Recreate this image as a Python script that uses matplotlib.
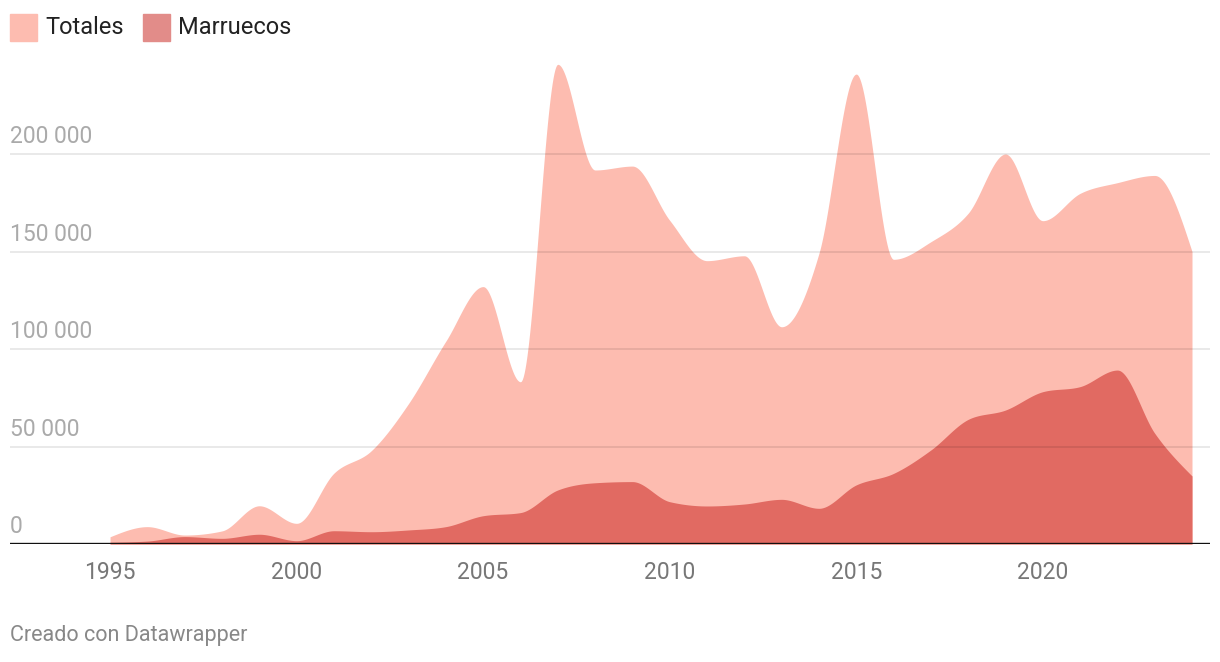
import matplotlib.pyplot as plt
import numpy as np

plt.rcParams['font.family'] = ['Roboto', 'DejaVu Sans']

years = list(range(1995, 2025))
totales = [3700, 8900, 4600, 6700, 19600, 10600, 36300, 47800, 72000, 104000,
           132000, 83200, 246000, 191800, 193800, 166000, 145300, 147800, 111400, 149000,
           241000, 146000, 155000, 169600, 200000, 165800, 179800, 185300, 189000, 150000]
marruecos = [900, 1500, 3800, 2900, 5000, 1700, 6800, 6300, 7200, 8900,
             14500, 16100, 27700, 31400, 32000, 21700, 19500, 20500, 22900, 18300,
             30300, 36200, 48200, 63900, 68700, 78100, 80700, 89200, 56800, 34900]
series_names = ['Totales', 'Marruecos']
y_ticks = [0, 50000, 100000, 150000, 200000]
x_ticks = [1995, 2000, 2005, 2010, 2015, 2020]

c_tot = '#fdbcb0'
c_mar = '#e16a62'
c_mar_legend = '#e28c89'


## monotone cubic like d3 curveMonotoneX
def monotone(x, y, n=40):
  x = np.asarray(x, float); y = np.asarray(y, float)
  h = np.diff(x); s = np.diff(y) / h
  m = np.zeros(len(x))
  for i in range(1, len(x) - 1):
    h0, h1 = h[i-1], h[i]
    s0, s1 = s[i-1], s[i]
    p = (s0 * h1 + s1 * h0) / (h0 + h1)
    m[i] = (np.sign(s0) + np.sign(s1)) * min(abs(s0), abs(s1), 0.5 * abs(p))
  m[0] = (3 * s[0] - m[1]) / 2
  m[-1] = (3 * s[-1] - m[-2]) / 2
  xs, ys = [], []
  for i in range(len(x) - 1):
    t = np.linspace(0, 1, n, endpoint=(i == len(x) - 2))
    h00 = 2*t**3 - 3*t**2 + 1
    h10 = t**3 - 2*t**2 + t
    h01 = -2*t**3 + 3*t**2
    h11 = t**3 - t**2
    xs.append(x[i] + t * h[i])
    ys.append(h00*y[i] + h10*h[i]*m[i] + h01*y[i+1] + h11*h[i]*m[i+1])
  return np.concatenate(xs), np.concatenate(ys)


fig = plt.figure(figsize=(12.2, 6.62), dpi=100)
ax = fig.add_axes([10/1220, 118/662, 1200/1220, 487.5/662])

xs, ys = monotone(years, totales)
ax.fill_between(xs, 0, ys, color=c_tot, lw=0, zorder=1)
xs, ys = monotone(years, marruecos)
ax.fill_between(xs, 0, ys, color=c_mar, lw=0, zorder=2)

ax.set_xlim(1995 - 100/37.3, 2024 + 18/37.3)
ax.set_ylim(0, 250000)

for v in y_ticks[1:]:
  ax.axhline(v, color='black', alpha=0.1, lw=1.2, zorder=3)
ax.axhline(0, color='#111111', lw=1.7, zorder=4)

for v in y_ticks:
  lab = '{:,}'.format(v).replace(',', ' ')
  ax.annotate(lab, xy=(0, v), xycoords=('axes fraction', 'data'),
              xytext=(0, 4), textcoords='offset points',
              ha='left', va='bottom', fontsize=16.5, color='#aaaaaa', zorder=5)

ax.set_xticks(x_ticks)
ax.set_xticklabels([str(t) for t in x_ticks], fontsize=16.5, color='#777777')
ax.tick_params(axis='x', length=0, pad=12)
ax.set_yticks([])
for sp in ax.spines.values():
  sp.set_visible(False)

# legend
fig.patches.append(plt.Rectangle((10/1220, 1 - 41/662), 27/1220, 27/662,
                                 transform=fig.transFigure, color=c_tot))
fig.text(45/1220, 1 - 27/662, series_names[0], fontsize=17, color='#222222', va='center')
fig.patches.append(plt.Rectangle((143/1220, 1 - 41/662), 27/1220, 27/662,
                                 transform=fig.transFigure, color=c_mar_legend))
fig.text(178/1220, 1 - 27/662, series_names[1], fontsize=17, color='#222222', va='center')

fig.text(10/1220, 1 - 636/662, 'Creado con Datawrapper', fontsize=15.5, color='#888888', va='center')

fig.savefig('out.png', dpi=100)
